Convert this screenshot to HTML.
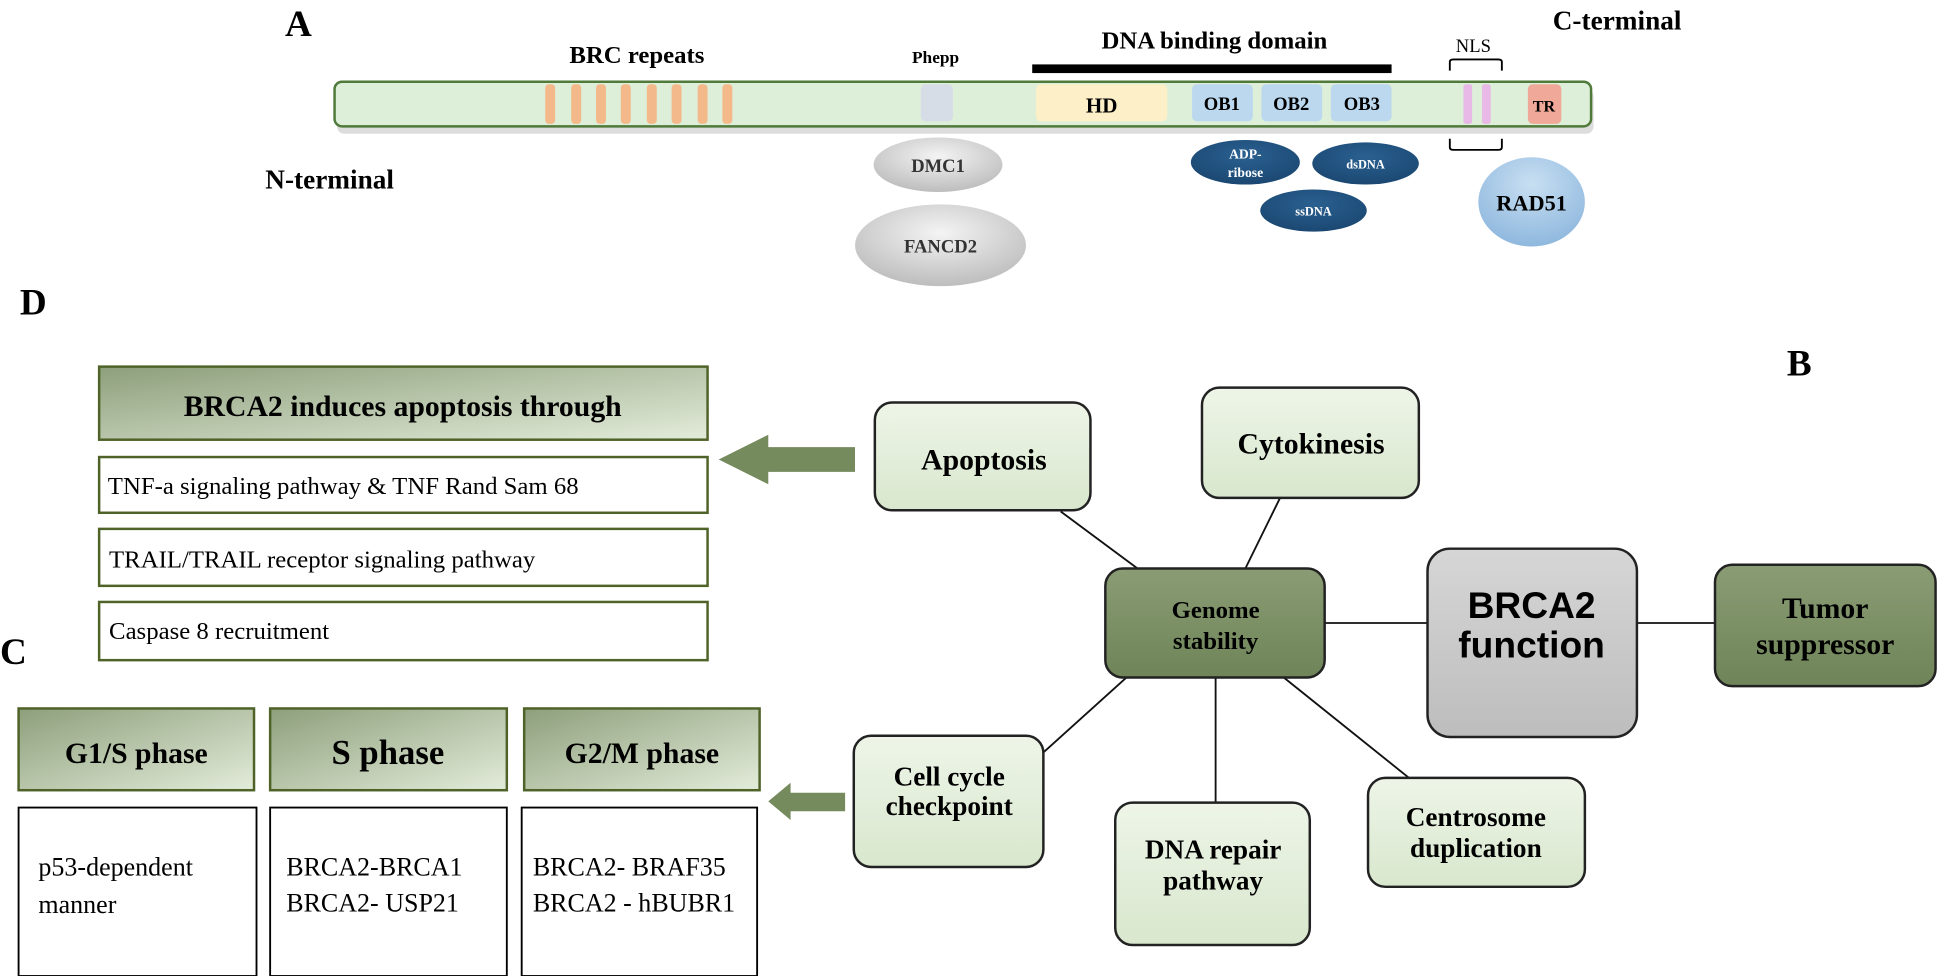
<!DOCTYPE html>
<html><head><meta charset="utf-8"><style>html,body{margin:0;padding:0;background:#fff}svg{display:block}</style></head>
<body>
<svg width="1943" height="976" viewBox="0 0 1568 788" preserveAspectRatio="none" xmlns="http://www.w3.org/2000/svg" font-family="'Liberation Serif',serif">
<defs>
<linearGradient id="hg" x1="0" y1="0" x2="1" y2="1"><stop offset="0" stop-color="#8d9f7b"/><stop offset="1" stop-color="#e3ecda"/></linearGradient>
<linearGradient id="ng" x1="0" y1="0" x2="0" y2="1"><stop offset="0" stop-color="#eef5e8"/><stop offset="1" stop-color="#d8e7cd"/></linearGradient>
<linearGradient id="dg" x1="0" y1="0" x2="0" y2="1"><stop offset="0" stop-color="#8a9c74"/><stop offset="1" stop-color="#6f8458"/></linearGradient>
<linearGradient id="gg" x1="0" y1="0" x2="0" y2="1"><stop offset="0" stop-color="#d6d6d6"/><stop offset="1" stop-color="#bdbdbd"/></linearGradient>
<radialGradient id="eg" cx="0.5" cy="0.35" r="0.7"><stop offset="0" stop-color="#f4f4f4"/><stop offset="1" stop-color="#b9b9b9"/></radialGradient>
<radialGradient id="bg" cx="0.5" cy="0.35" r="0.7"><stop offset="0" stop-color="#2a6090"/><stop offset="1" stop-color="#1a4670"/></radialGradient>
<radialGradient id="rg" cx="0.5" cy="0.3" r="0.7"><stop offset="0" stop-color="#c8dff2"/><stop offset="1" stop-color="#8fb8de"/></radialGradient>
</defs>
<g font-weight="bold" fill="#000">
<text x="230" y="29" font-size="30">A</text>
<text x="514" y="51" font-size="20" text-anchor="middle">BRC repeats</text>
<text x="755" y="51" font-size="14" text-anchor="middle">Phepp</text>
<text x="980" y="39" font-size="20" text-anchor="middle">DNA binding domain</text>
<text x="1305" y="24" font-size="22" text-anchor="middle">C-terminal</text>
<text x="1189" y="42" font-size="15" text-anchor="middle" font-weight="normal">NLS</text>
<text x="266" y="152" font-size="22" text-anchor="middle">N-terminal</text>
<text x="16" y="254" font-size="30">D</text>
<text x="1442" y="303" font-size="30">B</text>
<text x="0" y="536" font-size="30">C</text>
</g>
<rect x="833" y="52" width="290" height="7" fill="#000"/>
<path d="M1170 57 V50 Q1170 48 1173 48 H1209 Q1212 48 1212 50 V57" fill="none" stroke="#000" stroke-width="1.5"/>
<path d="M1170 112 V119 Q1170 121 1173 121 H1209 Q1212 121 1212 119 V112" fill="none" stroke="#000" stroke-width="1.5"/>
<rect x="272" y="72" width="1014" height="36" rx="6" fill="#bbb" opacity="0.5"/>
<rect x="270" y="66" width="1014" height="36" rx="6" fill="#ddefd8" stroke="#4f7a3a" stroke-width="2"/>
<g fill="#f4b98a">
<rect x="440" y="68" width="8" height="32" rx="3"/><rect x="461" y="68" width="8" height="32" rx="3"/><rect x="481" y="68" width="8" height="32" rx="3"/><rect x="501" y="68" width="8" height="32" rx="3"/><rect x="522" y="68" width="8" height="32" rx="3"/><rect x="542" y="68" width="8" height="32" rx="3"/><rect x="563" y="68" width="8" height="32" rx="3"/><rect x="583" y="68" width="8" height="32" rx="3"/>
</g>
<rect x="743" y="68" width="26" height="30" rx="4" fill="#d7dde6"/>
<rect x="836" y="68" width="106" height="30" rx="4" fill="#fdf0c8"/>
<rect x="962" y="68" width="49" height="30" rx="4" fill="#bcd8ee"/>
<rect x="1018" y="68" width="49" height="30" rx="4" fill="#bcd8ee"/>
<rect x="1074" y="68" width="49" height="30" rx="4" fill="#bcd8ee"/>
<rect x="1181" y="68" width="7" height="32" rx="2" fill="#e8b8e6"/>
<rect x="1196" y="68" width="7" height="32" rx="2" fill="#e8b8e6"/>
<rect x="1233" y="68" width="27" height="32" rx="4" fill="#f0a898"/>
<g font-weight="bold" text-anchor="middle">
<text x="889" y="91" font-size="17">HD</text>
<text x="986" y="89" font-size="15">OB1</text>
<text x="1042" y="89" font-size="15">OB2</text>
<text x="1099" y="89" font-size="15">OB3</text>
<text x="1246" y="90" font-size="13">TR</text>
</g>
<ellipse cx="757" cy="133" rx="52" ry="22" fill="url(#eg)"/>
<ellipse cx="759" cy="198" rx="69" ry="33" fill="url(#eg)"/>
<ellipse cx="1005" cy="131" rx="44" ry="18" fill="url(#bg)"/>
<ellipse cx="1102" cy="132" rx="43" ry="17" fill="url(#bg)"/>
<ellipse cx="1060" cy="170" rx="43" ry="17" fill="url(#bg)"/>
<ellipse cx="1236" cy="163" rx="43" ry="36" fill="url(#rg)"/>
<g font-weight="bold" text-anchor="middle">
<text x="757" y="139" font-size="15" fill="#333">DMC1</text>
<text x="759" y="204" font-size="15" fill="#333">FANCD2</text>
<text x="1005" y="128" font-size="11" fill="#fff">ADP-</text>
<text x="1005" y="143" font-size="11" fill="#fff">ribose</text>
<text x="1102" y="136" font-size="10" fill="#fff">dsDNA</text>
<text x="1060" y="174" font-size="10" fill="#fff">ssDNA</text>
<text x="1236" y="170" font-size="18">RAD51</text>
</g>
<!-- D panel -->
<rect x="80" y="296" width="491" height="59" fill="url(#hg)" stroke="#4f6228" stroke-width="2"/>
<text x="325" y="336" font-size="24" font-weight="bold" text-anchor="middle">BRCA2 induces apoptosis through</text>
<g fill="#fff" stroke="#4f6228" stroke-width="2">
<rect x="80" y="369" width="491" height="45"/><rect x="80" y="427" width="491" height="46"/><rect x="80" y="486" width="491" height="47"/>
</g>
<g font-size="20">
<text x="87" y="399">TNF-a signaling pathway &amp; TNF Rand Sam 68</text>
<text x="88" y="458">TRAIL/TRAIL receptor signaling pathway</text>
<text x="88" y="516">Caspase 8 recruitment</text>
</g>
<path d="M690 361 H620 V351 L580 371 L620 391 V381 H690 Z" fill="#758a5d"/>
<!-- lines -->
<g stroke="#111" stroke-width="1.5">
<line x1="856" y1="413" x2="918" y2="459"/><line x1="1033" y1="402" x2="1005" y2="459"/>
<line x1="1069" y1="503" x2="1152" y2="503"/><line x1="1321" y1="503" x2="1384" y2="503"/>
<line x1="909" y1="547" x2="837" y2="612"/><line x1="981" y1="547" x2="981" y2="648"/><line x1="1036" y1="547" x2="1137" y2="628"/>
</g>
<g stroke="#222" stroke-width="2">
<rect x="706" y="325" width="174" height="87" rx="14" fill="url(#ng)"/>
<rect x="970" y="313" width="175" height="89" rx="14" fill="url(#ng)"/>
<rect x="892" y="459" width="177" height="88" rx="14" fill="url(#dg)"/>
<rect x="1152" y="443" width="169" height="152" rx="18" fill="url(#gg)"/>
<rect x="1384" y="456" width="178" height="98" rx="14" fill="url(#dg)"/>
<rect x="689" y="594" width="153" height="106" rx="14" fill="url(#ng)"/>
<rect x="900" y="648" width="157" height="115" rx="14" fill="url(#ng)"/>
<rect x="1104" y="628" width="175" height="88" rx="14" fill="url(#ng)"/>
</g>
<g font-weight="bold" text-anchor="middle">
<text x="794" y="379" font-size="24">Apoptosis</text>
<text x="1058" y="366" font-size="24">Cytokinesis</text>
<text x="981" y="499" font-size="20">Genome</text>
<text x="981" y="524" font-size="20">stability</text>
<text x="1236" y="499" font-size="30" font-family="'Liberation Sans',sans-serif">BRCA2</text>
<text x="1236" y="531" font-size="30" font-family="'Liberation Sans',sans-serif">function</text>
<text x="1473" y="499" font-size="24">Tumor</text>
<text x="1473" y="528" font-size="24">suppressor</text>
<text x="766" y="634" font-size="22">Cell cycle</text>
<text x="766" y="658" font-size="22">checkpoint</text>
<text x="979" y="693" font-size="22">DNA repair</text>
<text x="979" y="718" font-size="22">pathway</text>
<text x="1191" y="667" font-size="22">Centrosome</text>
<text x="1191" y="692" font-size="22">duplication</text>
</g>
<path d="M682 640 H638 V632 L620 647 L638 662 V655 H682 Z" fill="#758a5d"/>
<!-- C panel -->
<g fill="url(#hg)" stroke="#4f6228" stroke-width="2">
<rect x="15" y="572" width="190" height="66"/><rect x="218" y="572" width="191" height="66"/><rect x="423" y="572" width="190" height="66"/>
</g>
<g font-weight="bold" text-anchor="middle">
<text x="110" y="616" font-size="24">G1/S phase</text>
<text x="313" y="617" font-size="28">S phase</text>
<text x="518" y="616" font-size="24">G2/M phase</text>
</g>
<g fill="#fff" stroke="#000" stroke-width="1.5">
<rect x="15" y="652" width="192" height="136"/><rect x="218" y="652" width="191" height="136"/><rect x="421" y="652" width="190" height="136"/>
</g>
<g font-size="21">
<text x="31" y="707">p53-dependent</text><text x="31" y="737">manner</text>
<text x="231" y="707">BRCA2-BRCA1</text><text x="231" y="736">BRCA2- USP21</text>
<text x="430" y="707">BRCA2- BRAF35</text><text x="430" y="736">BRCA2 - hBUBR1</text>
</g>
</svg>
</body></html>
